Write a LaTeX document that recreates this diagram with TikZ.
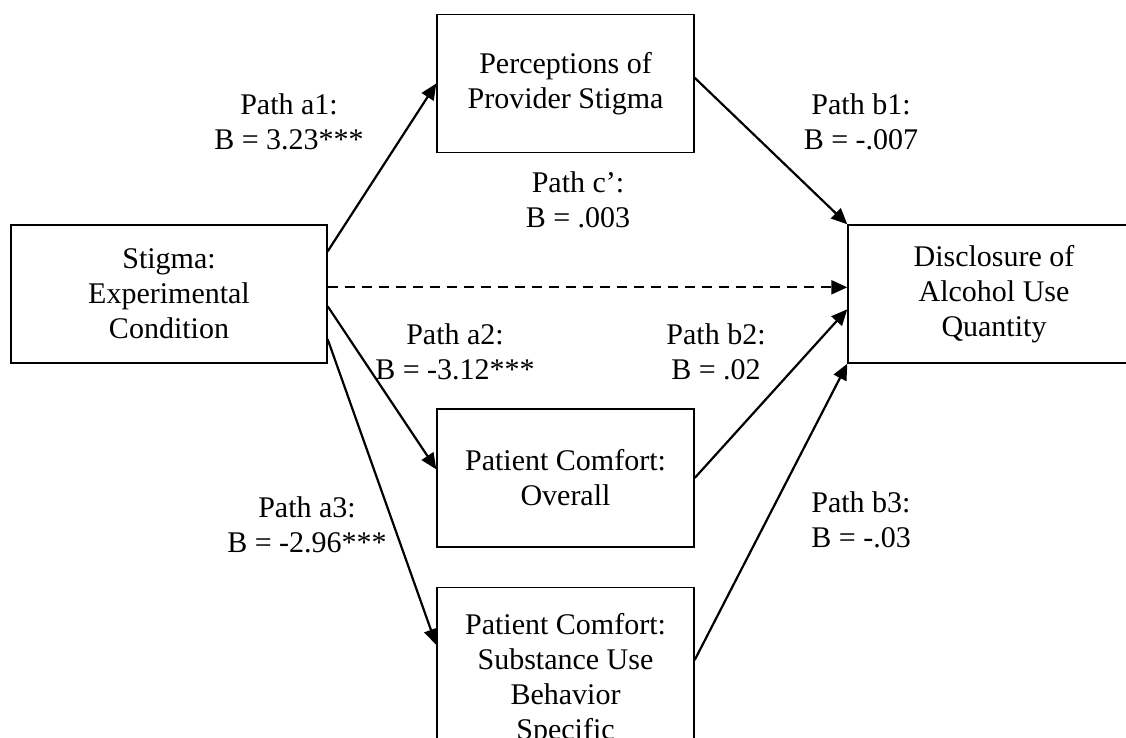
\documentclass[tikz,border=0pt]{standalone}
\usepackage{fontspec}
\setmainfont{Liberation Serif}
\usetikzlibrary{arrows.meta,calc}
\begin{document}
\begin{tikzpicture}[x=0.5pt,y=-0.5pt,
        every node/.style={font=\fontsize{15}{17.5}\selectfont},
        var/.style={draw,line width=0.7pt,align=center,inner sep=0pt,
          minimum height=69pt},
        path label/.style={align=center,inner sep=0pt},
        effect/.style={line width=1.1pt,-{Triangle[length=8pt,width=7pt]}}]
        \useasboundingbox (0,0) rectangle (1126,738);
        \clip (0,0) rectangle (1126,738);
        \node[var,minimum width=158pt] (stigma) at (169,294) {Stigma:\\Experimental\\Condition};
        \node[var,minimum width=128.5pt] (provider) at (565.5,83.5) {Perceptions of\\Provider Stigma};
        \node[var,minimum width=128.5pt] (overall) at (565.5,478) {Patient Comfort:\\Overall};
        \node[var,minimum width=128.5pt,minimum height=0pt,inner ysep=13pt,anchor=north]
          (specific) at (565.5,587) {Patient Comfort:\\Substance Use\\Behavior\\Specific};
        \node[var,minimum width=146pt] (disclosure) at (994,294) {Disclosure of\\Alcohol Use\\Quantity};
        \draw[effect] ($(stigma.north east)+(0,27)$) -- (provider.west);
        \draw[effect,dash pattern=on 5pt off 3.5pt] ($(stigma.north east)+(0,63)$)
          -- ($(disclosure.north west)+(0,63)$);
        \draw[effect] ($(stigma.north east)+(0,82)$) -- ($(overall.north west)+(0,61)$);
        \draw[effect] ($(stigma.north east)+(0,115)$) -- ($(specific.north west)+(0,58)$);
        \draw[effect] ($(provider.north east)+(0,64)$) -- (disclosure.north west);
        \draw[effect] (overall.east) -- ($(disclosure.north west)+(0,85)$);
        \draw[effect] ($(specific.north east)+(0,73)$) -- (disclosure.south west);
        \node[path label] (a1) at (289,122) {Path a1:\\B = 3.23***};
        \node[path label] (c) at (578,200) {Path c’:\\B = .003};
        \node[path label] (b1) at (861,122) {Path b1:\\B = -.007};
        \node[path label] (a2) at (455,352) {Path a2:\\B = -3.12***};
        \node[path label] (b2) at (716,352) {Path b2:\\B = .02};
        \node[path label] (a3) at (307,525) {Path a3:\\B = -2.96***};
        \node[path label,anchor=west,align=left] (b3) at (811,520) {Path b3:\\B = -.03};
\end{tikzpicture}
\end{document}
